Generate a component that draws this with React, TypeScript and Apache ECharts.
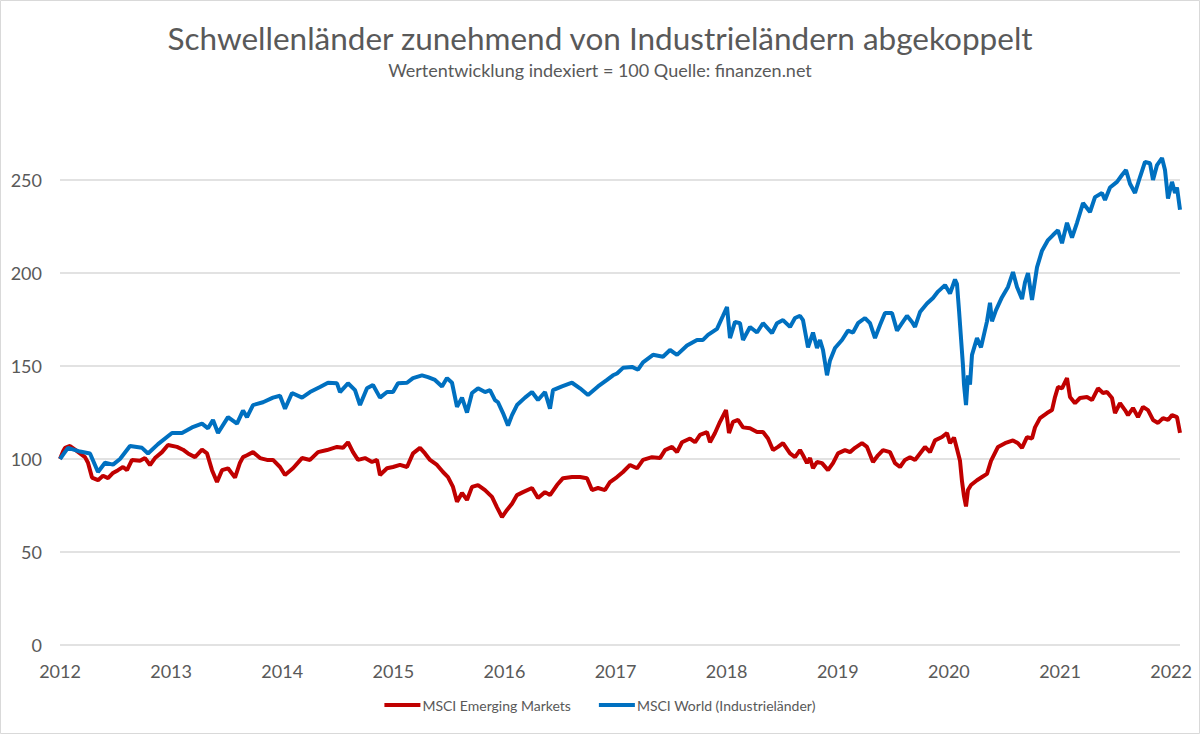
import React, { useEffect, useRef } from "react";
import * as echarts from "echarts";

// Fractional years (x) and index values (y)
const emDates = [
  2012.0, 2012.027, 2012.045, 2012.09, 2012.135, 2012.18, 2012.225, 2012.252, 2012.288, 2012.342, 2012.387, 2012.432,
  2012.477, 2012.522, 2012.567, 2012.603, 2012.648, 2012.72, 2012.765, 2012.81, 2012.855, 2012.918, 2012.972,
  2013.053, 2013.107, 2013.152, 2013.215, 2013.278, 2013.323, 2013.368, 2013.413, 2013.458, 2013.512, 2013.575,
  2013.62, 2013.647, 2013.683, 2013.737, 2013.8, 2013.863, 2013.917, 2013.98, 2014.025, 2014.097, 2014.178,
  2014.25, 2014.322, 2014.403, 2014.493, 2014.547, 2014.592, 2014.637, 2014.682, 2014.745, 2014.808, 2014.853,
  2014.88, 2014.943, 2014.997, 2015.06, 2015.123, 2015.177, 2015.24, 2015.285, 2015.33, 2015.393, 2015.447,
  2015.492, 2015.537, 2015.573, 2015.618, 2015.663, 2015.708, 2015.762, 2015.825, 2015.888, 2015.933, 2015.978,
  2016.023, 2016.068, 2016.113, 2016.167, 2016.248, 2016.302, 2016.365, 2016.41, 2016.473, 2016.527, 2016.608,
  2016.68, 2016.743, 2016.788, 2016.842, 2016.905, 2016.95, 2017.013, 2017.067, 2017.13, 2017.193, 2017.247,
  2017.328, 2017.4, 2017.445, 2017.508, 2017.553, 2017.598, 2017.67, 2017.715, 2017.76, 2017.823, 2017.85,
  2017.895, 2017.94, 2017.994, 2018.021, 2018.057, 2018.102, 2018.147, 2018.21, 2018.273, 2018.327, 2018.372,
  2018.417, 2018.462, 2018.507, 2018.57, 2018.615, 2018.66, 2018.687, 2018.723, 2018.75, 2018.777, 2018.813,
  2018.858, 2018.912, 2018.957, 2019.002, 2019.065, 2019.11, 2019.155, 2019.218, 2019.263, 2019.317, 2019.362,
  2019.407, 2019.47, 2019.515, 2019.56, 2019.605, 2019.65, 2019.695, 2019.74, 2019.785, 2019.83, 2019.875,
  2019.938, 2019.983, 2020.01, 2020.046, 2020.073, 2020.1, 2020.118, 2020.136, 2020.154, 2020.172, 2020.199,
  2020.253, 2020.298, 2020.343, 2020.379, 2020.442, 2020.505, 2020.577, 2020.622, 2020.658, 2020.703, 2020.748,
  2020.775, 2020.82, 2020.883, 2020.928, 2020.955, 2020.982, 2021.018, 2021.063, 2021.09, 2021.135, 2021.18,
  2021.243, 2021.288, 2021.342, 2021.387, 2021.423, 2021.468, 2021.495, 2021.54, 2021.585, 2021.612, 2021.657,
  2021.702, 2021.747, 2021.792, 2021.837, 2021.882, 2021.927, 2021.972, 2022.008, 2022.053, 2022.08,
];
const emValues = [
  100, 104, 106, 107, 105, 103, 101, 98, 90, 88.6, 91, 89.7,
  92.5, 94, 95.7, 94, 99.5, 99, 100.5, 96.8, 100.5, 103.7, 107.5,
  106.5, 105, 103, 101, 105, 103, 94, 87.6, 94, 95, 90,
  98, 101, 102, 103.7, 100.5, 99.5, 99.5, 95.7, 91.4, 95, 100.5,
  99.5, 103.7, 104.8, 106.5, 106, 109, 103.7, 99.5, 100.5, 98.4, 99.5,
  91.4, 95, 95.7, 96.8, 95.7, 103, 106, 103, 99.5, 96.8, 93,
  90.3, 85, 77, 81.7, 78, 85, 86, 83.3, 79.6, 74, 68.8,
  72.6, 76, 80.6, 82.2, 84.4, 79, 82.2, 80.6, 86, 89.7, 90.3,
  90.3, 89.7, 83.3, 84.4, 83.3, 87.6, 90.3, 93, 96.8, 95, 99.5,
  101, 100.5, 104.8, 106.5, 103.7, 109, 111, 109, 113, 114.5, 109,
  114, 120, 126.3, 114, 120, 121, 117, 116.5, 114.5, 114.5, 111,
  104.8, 106.5, 108.5, 103, 101, 104.8, 102, 97.8, 100.5, 95, 98.4,
  97.8, 94, 97.8, 103, 104.8, 103.7, 106, 108.5, 106.5, 98.4, 102,
  104.8, 103.7, 97.8, 95.7, 99.5, 101, 99.5, 103, 106.5, 103.7, 110,
  111.8, 114, 108.5, 111.5, 105.4, 99, 88, 80, 74.5, 83.3, 86,
  88.6, 90.3, 92, 99, 106.5, 108.5, 110, 108.5, 106, 111.8, 111,
  117, 122, 124.7, 126.3, 133.3, 138.7, 138, 143.5, 133.3, 130, 132.8,
  133.3, 131.7, 138, 135.5, 136, 132.8, 124.7, 130, 126.3, 123.6, 127.4,
  122.5, 128, 126.3, 121, 119.4, 122, 121, 123.6, 122.5, 114,
];

const worldDates = [
  2012.0, 2012.036, 2012.072, 2012.18, 2012.27, 2012.342, 2012.405, 2012.477, 2012.54, 2012.63, 2012.738, 2012.792,
  2012.882, 2013.008, 2013.098, 2013.188, 2013.278, 2013.332, 2013.377, 2013.422, 2013.512, 2013.593, 2013.647,
  2013.683, 2013.737, 2013.827, 2013.917, 2013.98, 2014.025, 2014.088, 2014.178, 2014.25, 2014.34, 2014.412,
  2014.493, 2014.52, 2014.592, 2014.655, 2014.7, 2014.763, 2014.817, 2014.88, 2014.943, 2014.997, 2015.042,
  2015.123, 2015.177, 2015.258, 2015.312, 2015.375, 2015.438, 2015.483, 2015.528, 2015.573, 2015.618, 2015.663,
  2015.708, 2015.762, 2015.825, 2015.87, 2015.915, 2015.942, 2015.987, 2016.032, 2016.068, 2016.113, 2016.185,
  2016.248, 2016.302, 2016.365, 2016.41, 2016.437, 2016.518, 2016.608, 2016.68, 2016.752, 2016.842, 2016.923,
  2016.977, 2017.013, 2017.067, 2017.148, 2017.202, 2017.247, 2017.337, 2017.427, 2017.49, 2017.553, 2017.643,
  2017.733, 2017.787, 2017.832, 2017.913, 2017.967, 2018.003, 2018.03, 2018.075, 2018.12, 2018.147, 2018.21,
  2018.273, 2018.327, 2018.408, 2018.453, 2018.507, 2018.57, 2018.615, 2018.66, 2018.687, 2018.732, 2018.777,
  2018.813, 2018.84, 2018.867, 2018.903, 2018.93, 2018.975, 2019.038, 2019.092, 2019.137, 2019.182, 2019.245,
  2019.29, 2019.335, 2019.38, 2019.425, 2019.488, 2019.533, 2019.578, 2019.623, 2019.668, 2019.695, 2019.74,
  2019.803, 2019.857, 2019.902, 2019.965, 2020.01, 2020.055, 2020.073, 2020.091, 2020.109, 2020.127, 2020.136,
  2020.154, 2020.172, 2020.19, 2020.208, 2020.253, 2020.289, 2020.316, 2020.343, 2020.37, 2020.388, 2020.424,
  2020.478, 2020.532, 2020.577, 2020.613, 2020.658, 2020.685, 2020.712, 2020.748, 2020.793, 2020.838, 2020.892,
  2020.937, 2020.982, 2021.018, 2021.063, 2021.108, 2021.153, 2021.207, 2021.27, 2021.315, 2021.378, 2021.405,
  2021.45, 2021.513, 2021.558, 2021.594, 2021.63, 2021.675, 2021.72, 2021.765, 2021.81, 2021.837, 2021.873,
  2021.918, 2021.945, 2021.972, 2022.008, 2022.035, 2022.053, 2022.08,
];
const worldValues = [
  100, 103, 106, 104, 103, 93, 98, 97, 100, 107, 106, 103,
  108, 114, 114, 117, 119, 116.5, 121, 114, 122.5, 119, 126,
  122.5, 129, 130.5, 133, 134, 127, 135.5, 133, 136, 138.7, 141,
  140.7, 136, 140.7, 137, 129, 138, 139.8, 133, 136, 136, 140.7,
  141, 143.5, 145, 144, 142.5, 139, 143.5, 141, 128, 133, 125,
  135.5, 138, 136, 137, 131.7, 130.5, 124.7, 118, 123.6, 129, 133,
  136, 131.7, 136, 127, 137, 139, 141, 138, 134.4, 139, 142.5,
  145, 146, 149, 149.5, 148, 152, 156, 155, 158.6, 156, 161,
  164, 164, 166.7, 170, 177, 181.7, 165, 173.7, 173, 164, 171,
  168, 173, 167.7, 173, 174.7, 171, 175.8, 177, 174.7, 160, 168,
  159.7, 164, 158.6, 145, 153, 159.7, 164, 169, 168, 173, 175.8,
  173, 165, 172, 178.5, 178.5, 169, 173, 177, 173.7, 171, 179,
  183.6, 186.6, 190, 193.5, 189, 196.5, 194, 180, 165, 150, 140,
  129, 145, 140, 156, 165, 160, 167, 174, 184, 174, 180,
  187, 192.5, 200.5, 192.5, 186, 195, 200, 185.5, 203, 212, 217.7,
  220.4, 223, 216, 227, 219, 227, 237.6, 232.8, 240.8, 243, 239.2,
  246, 249, 252.7, 255.4, 248, 243, 251.6, 259.7, 259, 250, 258,
  261.8, 255.4, 240, 249, 243, 246, 234,
];

const yTicks = { min: 0, max: 250, interval: 50 };
const xRange = { min: 2012, max: 2022.08, interval: 1 };

const seriesNames = ["MSCI Emerging Markets", "MSCI World (Industrieländer)"];
const seriesColors = ["#C00000", "#0070C0"];

const FONT = "Lato, 'Open Sans', sans-serif";

export default function App() {
  const ref = useRef<HTMLDivElement>(null);

  useEffect(() => {
    if (!ref.current) return;
    const chart = echarts.init(ref.current, undefined, { renderer: "svg" });
    const em = emDates.map((d, i) => [d, emValues[i]]);
    const world = worldDates.map((d, i) => [d, worldValues[i]]);

    chart.setOption({
      animation: false,
      backgroundColor: "#ffffff",
      textStyle: { fontFamily: FONT },
      title: [
        {
          text: "Schwellenländer zunehmend von Industrieländern abgekoppelt",
          left: "center",
          top: 17,
          textStyle: { fontFamily: FONT, fontSize: 31.5, fontWeight: "normal", color: "#595959" },
        },
        {
          text: "Wertentwicklung indexiert = 100 Quelle: finanzen.net",
          left: "center",
          top: 56,
          textStyle: { fontFamily: FONT, fontSize: 18, fontWeight: "normal", color: "#595959" },
        },
      ],
      graphic: [
        {
          type: "rect",
          shape: { x: 0.5, y: 0.5, width: 1199, height: 733 },
          style: { fill: "none", stroke: "#d9d9d9", lineWidth: 1 },
          silent: true,
        },
      ],
      legend: {
        bottom: 17,
        left: "center",
        itemWidth: 36,
        itemHeight: 4,
        itemGap: 28,
        icon: "rect",
        textStyle: { fontFamily: FONT, fontSize: 14, color: "#595959", padding: [0, 0, 0, -3] },
        data: seriesNames,
      },
      grid: { left: 60, right: 20, top: 180, bottom: 89 },
      xAxis: {
        type: "value",
        min: xRange.min,
        max: xRange.max,
        interval: xRange.interval,
        axisLine: { show: false },
        axisTick: { show: false },
        splitLine: { show: false },
        axisLabel: {
          margin: 17,
          fontFamily: FONT,
          fontSize: 18,
          color: "#595959",
          formatter: (v: number) => (Math.abs(v - Math.round(v)) < 1e-6 ? String(Math.round(v)) : ""),
        },
      },
      yAxis: {
        type: "value",
        min: yTicks.min,
        max: yTicks.max,
        interval: yTicks.interval,
        axisLine: { show: false },
        axisTick: { show: false },
        splitLine: { lineStyle: { color: "#d9d9d9", width: 1.5 } },
        axisLabel: { margin: 18, fontFamily: FONT, fontSize: 18, color: "#595959" },
      },
      series: [
        {
          name: seriesNames[0],
          type: "line",
          data: em,
          showSymbol: false,
          symbol: "none",
          clip: false,
          color: seriesColors[0],
          lineStyle: { width: 4, color: seriesColors[0] },
        },
        {
          name: seriesNames[1],
          type: "line",
          data: world,
          showSymbol: false,
          symbol: "none",
          clip: false,
          color: seriesColors[1],
          lineStyle: { width: 4, color: seriesColors[1] },
        },
      ],
    });
    return () => chart.dispose();
  }, []);

  return (
    <div
      ref={ref}
      style={{ position: "fixed", left: 0, top: 0, width: 1200, height: 734 }}
    />
  );
}
